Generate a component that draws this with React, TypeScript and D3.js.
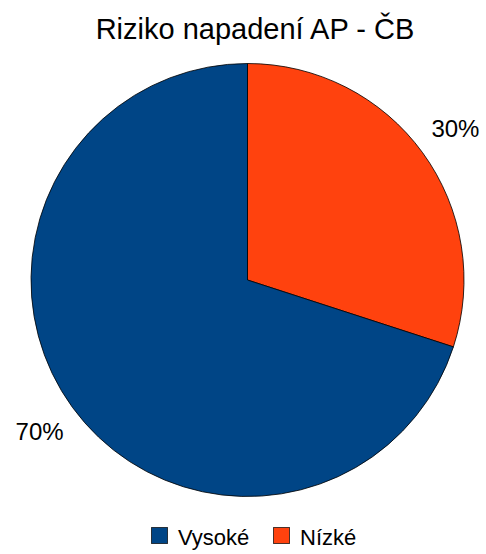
import React from "react";
import * as d3 from "d3";

const categories = ["Vysoké", "Nízké"];
const values = [70, 30];
const colors = ["#004586", "#ff420e"];
const labels = ["70%", "30%"];

const W = 486;
const H = 554;
const cx = 247.5;
const cy = 280;
const R = 216.5;
const labelR = 257;

export default function App() {
  const items = categories.map((c, i) => ({ c, v: values[i], color: colors[i], label: labels[i] }));
  // Nízké drawn first from 12 o'clock clockwise, then Vysoké
  const pie = d3
    .pie<any>()
    .value((d) => d.v)
    .sort(null)
    .startAngle(0)
    .endAngle(2 * Math.PI);
  const ordered = [items[1], items[0]];
  const arcs = pie(ordered);
  const arc = d3.arc<any>().innerRadius(0).outerRadius(R);

  return (
    <svg width={W} height={H} style={{ position: "absolute", left: 0, top: 0, background: "#fff" }}
      fontFamily="'Liberation Sans', Arial, sans-serif">
      <rect width={W} height={H} fill="#fff" />
      <text x={255} y={39} textAnchor="middle" fontSize={29} fill="#000">
        Riziko napadení AP - ČB
      </text>
      <g transform={`translate(${cx},${cy})`}>
        {arcs.map((a, i) => (
          <path key={i} d={arc(a) as string} fill={a.data.color} stroke="#000" strokeWidth={1} strokeOpacity={0.8} />
        ))}
        {arcs.map((a, i) => {
          const m = (a.startAngle + a.endAngle) / 2;
          const x = labelR * Math.sin(m);
          const y = -labelR * Math.cos(m);
          return (
            <text key={"l" + i} x={x} y={y} textAnchor="middle" dominantBaseline="central" fontSize={24} fill="#000">
              {a.data.label}
            </text>
          );
        })}
      </g>
      <g>
        {items.map((d, i) => {
          const x0 = i === 0 ? 151 : 273;
          return (
            <g key={"lg" + i}>
              <rect x={x0 + 0.5} y={527.5} width={16} height={16} fill={d.color} stroke="#000" strokeWidth={1} strokeOpacity={0.7} />
              <text x={x0 + 27} y={545} fontSize={22} fill="#000">{d.c}</text>
            </g>
          );
        })}
      </g>
    </svg>
  );
}
